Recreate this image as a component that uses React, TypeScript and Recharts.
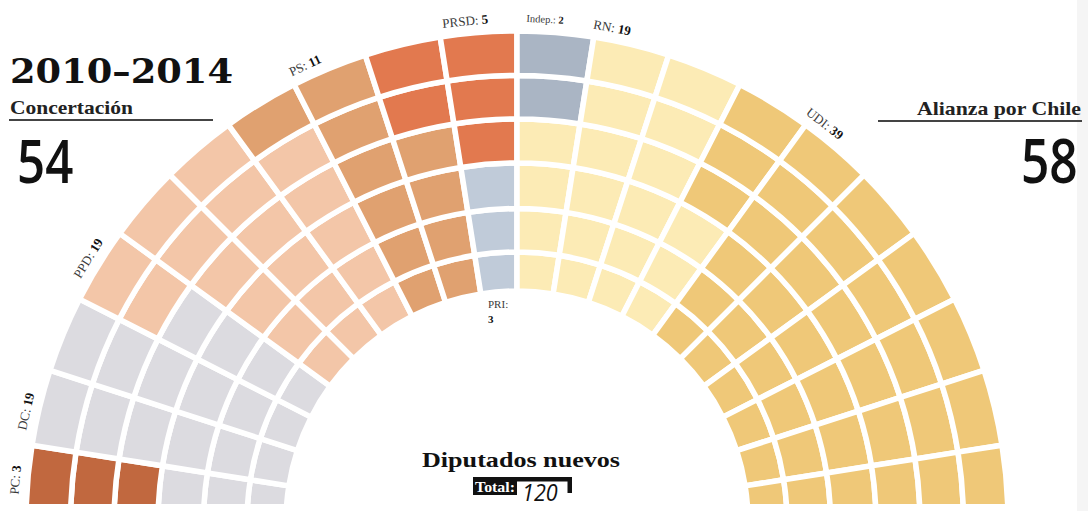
import { PieChart, Pie, Cell } from 'recharts'

// Cámara de Diputados 2010-2014
const parties = ['PC', 'DC', 'PPD', 'PS', 'PRSD', 'PRI', 'Indep.', 'RN', 'UDI']
const seats = [3, 19, 19, 11, 5, 3, 2, 19, 39]
const partyColors = ['#c1683f', '#dcdbe0', '#f3c6a8', '#e0a170', '#e2794f', '#c0cbd9', '#aab5c4', '#fcebb5', '#efc878']

// which end of each spoke (left -> right) is filled first, as seen in the picture
const spokeFill = ['out', 'out', 'out', 'in', 'in', 'in', 'in', 'in', 'in', 'out', 'out', 'out', 'out', 'in', 'in', 'in', 'in', 'in', 'in', 'in']

const title = '2010–2014'
const leftBloc = 'Concertación'
const leftTotal = '54'
const rightBloc = 'Alianza por Chile'
const rightTotal = '58'
const caption = 'Diputados nuevos'
const totalLabel = 'Total:'
const totalValue = '120'

// layout
const CX = 517
const CY = 522
const RING_EDGES = [231, 270, 313.5, 359, 403, 446.5, 491]
const LABEL_R = 504
const labelAngle: Record<string, number> = { PC: 175.2, DC: 167.3, PPD: 148.4, PS: 114.9, PRSD: 95.9, 'Indep.': 86.8, RN: 79.1, UDI: 52.3 }
const labelSize: Record<string, number> = { 'Indep.': 10.5 }

const SPOKES = spokeFill.length
const RINGS = RING_EDGES.length - 1

// seat grid: grid[ring][spoke], ring 0 is the innermost
const seatParty: number[] = []
seats.forEach((n, p) => {
  for (let i = 0; i < n; i++) seatParty.push(p)
})
const grid: number[][] = Array.from({ length: RINGS }, () => new Array(SPOKES).fill(0))
let k = 0
for (let s = 0; s < SPOKES; s++) {
  for (let j = 0; j < RINGS; j++) {
    const ring = spokeFill[s] === 'out' ? RINGS - 1 - j : j
    grid[ring][s] = seatParty[k++]
  }
}
const ringData = grid.map((row) =>
  row.map((p, s) => ({ name: `${parties[p]}-${s + 1}`, value: 1, party: p }))
)

const serif = '"Liberation Serif", serif'
const sans = '"Open Sans", sans-serif'

const App = () => {
  return (
    <div style={{ position: 'absolute', left: 0, top: 0, width: 1088, height: 511, background: '#fff', overflow: 'hidden' }}>
      <div style={{ position: 'absolute', left: 0, top: 0, width: 1088, height: 504, overflow: 'hidden' }}>
        <PieChart width={1088} height={560} margin={{ top: 0, right: 0, bottom: 0, left: 0 }}>
          {ringData.map((data, r) => (
            <Pie
              key={r}
              data={data}
              dataKey="value"
              nameKey="name"
              cx={CX}
              cy={CY}
              innerRadius={RING_EDGES[r]}
              outerRadius={RING_EDGES[r + 1]}
              startAngle={180}
              endAngle={0}
              stroke="#fff"
              strokeWidth={5.5}
              isAnimationActive={false}
            >
              {data.map((d, i) => (
                <Cell key={i} fill={partyColors[d.party]} />
              ))}
            </Pie>
          ))}
        </PieChart>
      </div>

      <svg width={1088} height={511} style={{ position: 'absolute', left: 0, top: 0, pointerEvents: 'none' }}>
        <rect x={1077} y={0} width={11} height={511} fill="#f5f5f5" />

        <text x={10} y={83} fontFamily='"DejaVu Serif", serif' fontWeight="bold" fontSize={34} fill="#111" textLength={223} lengthAdjust="spacingAndGlyphs">
          {title}
        </text>
        <text x={10} y={113.5} fontFamily={serif} fontWeight="bold" fontSize={19} fill="#222" textLength={123} lengthAdjust="spacingAndGlyphs">
          {leftBloc}
        </text>
        <line x1={9} x2={213} y1={120} y2={120} stroke="#444" strokeWidth={2} />
        <text transform="translate(17 183) scale(0.82 1)" fontFamily={sans} fontWeight={600} fontSize={60} fill="#111">
          {leftTotal}
        </text>

        <text x={917} y={115} fontFamily={serif} fontWeight="bold" fontSize={19} fill="#222" textLength={164} lengthAdjust="spacingAndGlyphs">
          {rightBloc}
        </text>
        <line x1={878} x2={1082} y1={121} y2={121} stroke="#444" strokeWidth={2} />
        <text transform="translate(1021 183) scale(0.8 1)" fontFamily={sans} fontWeight={600} fontSize={62} fill="#111">
          {rightTotal}
        </text>

        <text x={422} y={467} fontFamily={serif} fontWeight="bold" fontSize={22} fill="#111" textLength={198} lengthAdjust="spacingAndGlyphs">
          {caption}
        </text>
        <rect x={473} y={477} width={44} height={18} fill="#111" />
        <rect x={517} y={477} width={55} height={4.5} fill="#111" />
        <rect x={567.5} y={477} width={4.5} height={16} fill="#111" />
        <text x={475} y={491.5} fontFamily={serif} fontWeight="bold" fontSize={14} fill="#fff" textLength={40} lengthAdjust="spacingAndGlyphs">
          {totalLabel}
        </text>
        <text transform="translate(522 500.5) scale(0.9 1)" fontFamily={sans} fontStyle="italic" fontSize={24} fill="#111">
          {totalValue}
        </text>

        {parties.map((name, p) => {
          const a = labelAngle[name]
          if (a === undefined) return null
          const rad = (a * Math.PI) / 180
          const x = CX + LABEL_R * Math.cos(rad)
          const y = CY - LABEL_R * Math.sin(rad)
          return (
            <text
              key={name}
              x={x}
              y={y}
              transform={`rotate(${90 - a} ${x} ${y})`}
              textAnchor="middle"
              dominantBaseline="central"
              fontFamily={serif}
              fontSize={labelSize[name] ?? 13}
              fill="#3a3a3a"
            >
              <tspan>{name}: </tspan>
              <tspan fontWeight="bold" fill="#111">{seats[p]}</tspan>
            </text>
          )
        })}

        <text x={488} y={308} fontFamily={serif} fontSize={11} fill="#3a3a3a">
          {parties[5]}:
        </text>
        <text x={488} y={323} fontFamily={serif} fontSize={11} fontWeight="bold" fill="#111">
          {seats[5]}
        </text>
      </svg>
    </div>
  )
}

export default App
